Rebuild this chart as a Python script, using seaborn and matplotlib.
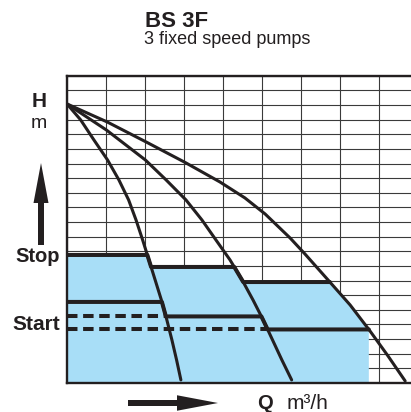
import numpy as np
import pandas as pd
import seaborn as sns
import matplotlib.pyplot as plt
from matplotlib.patches import FancyArrow
from matplotlib.transforms import Affine2D

# Pump curves in grid units (Q = columns, H = rows)
pump1_q = [0, 0.35, 0.69, 1.04, 1.33, 1.58, 1.77, 1.94, 2.10, 2.26, 2.42, 2.56, 2.69, 2.81, 2.92]
pump1_h = [19.07, 17.98, 16.61, 15.24, 13.88, 12.51, 11.14, 9.77, 8.41, 7.04, 5.67, 4.31, 2.94, 1.57, 0.21]

pump2_q = [0, 1.01, 2.01, 2.54, 3.05, 3.46, 3.82, 4.18, 4.49, 4.77, 5.03, 5.27, 5.51, 5.76]
pump2_h = [19.07, 17.29, 15.24, 13.88, 12.51, 11.14, 9.77, 8.41, 7.04, 5.67, 4.31, 2.94, 1.57, 0.21]

pump3_q = [0, 1.03, 2.03, 3.03, 3.92, 4.56, 5.08, 5.72, 6.10, 6.74, 7.26, 7.77, 8.23, 8.67]
pump3_h = [19.07, 17.84, 16.47, 15.07, 13.74, 12.65, 11.55, 9.91, 8.82, 6.90, 5.33, 3.55, 1.85, 0.14]

stop_levels = [8.75, 7.93, 6.90]
start_levels = [5.54, 4.55, 3.66]

q_max = 8.82
h_max = 21

ink = '#231f20'
blue = '#a8def7'

W, H = 411, 412

sns.set_style('white')
plt.rcParams['font.family'] = ['Liberation Sans', 'DejaVu Sans']

fig = plt.figure(figsize=(W / 100, H / 100), dpi=100)
ax = fig.add_axes([67 / W, 29 / H, 344 / W, 307.3 / H])

curves = [(pump1_q, pump1_h), (pump2_q, pump2_h), (pump3_q, pump3_h)]


def cross(curve, level):
    q, h = curve
    return float(np.interp(level, h[::-1], q[::-1]))


def staircase(levels):
    pts = [(0, levels[0])]
    for i, c in enumerate(curves):
        pts.append((cross(c, levels[i]), levels[i]))
        if i < len(curves) - 1:
            pts.append((cross(c, levels[i + 1]), levels[i + 1]))
    return pts


stop_pts = staircase(stop_levels)
start_pts = staircase(start_levels)

# Blue operating area
q3, h3 = curves[2]
edge = [(q, h) for q, h in zip(q3, h3) if start_levels[2] < h < stop_levels[2]]
q_end = cross(curves[2], start_levels[2])
poly = [(0, 0)] + stop_pts + edge + [(q_end, start_levels[2]), (q_end, 0)]
ax.fill([p[0] for p in poly], [p[1] for p in poly], color=blue, lw=0, zorder=1)

# Pump curves
df = pd.concat([
    pd.DataFrame({'Q': q, 'H': h, 'pump': f'P{i + 1}'})
    for i, (q, h) in enumerate(curves)
])
sns.lineplot(data=df, x='Q', y='H', hue='pump', estimator=None, sort=False,
             palette=[ink] * 3, lw=2.2, legend=False, ax=ax, zorder=4)

# Stop / start lines
ax.plot([p[0] for p in stop_pts], [p[1] for p in stop_pts], color=ink, lw=2.9, zorder=5)
ax.plot([p[0] for p in start_pts], [p[1] for p in start_pts], color=ink, lw=2.9, zorder=5)
ax.plot([0, cross(curves[0], start_levels[1])], [start_levels[1]] * 2,
        color=ink, lw=2.9, ls=(0, (2.6, 1.4)), zorder=5)
ax.plot([0, cross(curves[1], start_levels[2])], [start_levels[2]] * 2,
        color=ink, lw=2.9, ls=(0, (2.6, 1.4)), zorder=5)

ax.set_xlim(0, q_max)
ax.set_ylim(0, h_max)
ax.set_xticks(np.arange(0, 9))
ax.set_yticks(np.arange(0, h_max + 1))
ax.grid(True, color='#3a3a3a', lw=0.8)
ax.tick_params(length=0, labelbottom=False, labelleft=False)
ax.set_xlabel('')
ax.set_ylabel('')
ax.spines['right'].set_visible(False)
for s in ['left', 'bottom', 'top']:
    ax.spines[s].set_linewidth(1.7)
    ax.spines[s].set_color(ink)

# Labels and arrows placed in pixel coordinates
pix = Affine2D().scale(1 / W, -1 / H).translate(0, 1) + fig.transFigure

fig.text(145, 27, 'BS 3F', transform=pix, fontsize=16, fontweight='bold', color=ink, va='baseline')
fig.text(144, 44, '3 fixed speed pumps', transform=pix, fontsize=13, color=ink, va='baseline')
fig.text(39.5, 107, 'H', transform=pix, fontsize=15, fontweight='bold', color=ink, ha='center', va='baseline')
fig.text(39, 128, 'm', transform=pix, fontsize=14, color=ink, ha='center', va='baseline')
fig.text(15, 262, 'Stop', transform=pix, fontsize=14.5, fontweight='bold', color=ink, va='baseline')
fig.text(12, 330, 'Start', transform=pix, fontsize=15, fontweight='bold', color=ink, va='baseline')
fig.text(257, 409, 'Q', transform=pix, fontsize=14.5, fontweight='bold', color=ink, va='baseline')
fig.text(287, 409, 'm³/h', transform=pix, fontsize=15, color=ink, va='baseline')

fig.add_artist(FancyArrow(41, 245, 0, -82, width=6, head_width=15, head_length=40,
                          length_includes_head=True, transform=pix, color=ink, lw=0))
fig.add_artist(FancyArrow(128, 403, 90, 0, width=6, head_width=15.5, head_length=41,
                          length_includes_head=True, transform=pix, color=ink, lw=0))

fig.savefig('out.png', dpi=100)
plt.close(fig)
